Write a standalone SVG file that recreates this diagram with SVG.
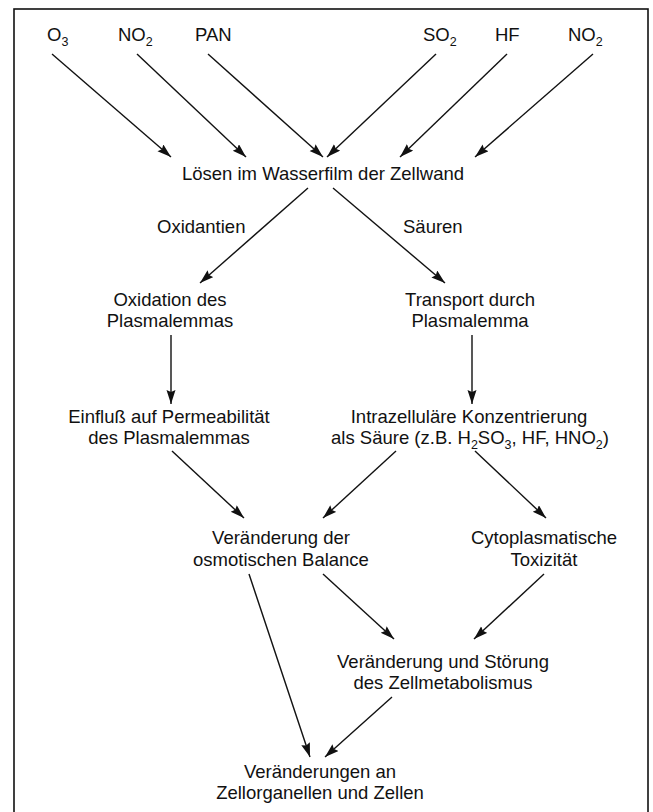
<svg xmlns="http://www.w3.org/2000/svg" width="653" height="812" viewBox="0 0 653 812">
<style>
text{font-family:"Liberation Sans",Arial,sans-serif;font-size:18.5px;fill:#111;}
.c{text-anchor:middle;}
.sub{font-size:12.5px;}
.ln{stroke:#111;stroke-width:1.4;fill:none;marker-end:url(#ah);}
</style>
<defs>
<marker id="ah" markerUnits="userSpaceOnUse" markerWidth="16" markerHeight="10" refX="14" refY="4.5" orient="auto">
<path d="M0,0 L14,4.5 L0,9 L2,4.5 z" fill="#111"/>
</marker>
</defs>
<rect x="0" y="0" width="653" height="812" fill="#fff"/>
<rect x="14" y="9" width="634" height="820" fill="none" stroke="#111" stroke-width="1.6"/>

<g id="n-o3"><text x="47" y="41">O<tspan class="sub" dy="5">3</tspan></text></g>
<g id="n-no2a"><text x="118" y="41">NO<tspan class="sub" dy="5">2</tspan></text></g>
<g id="n-pan"><text x="195" y="41">PAN</text></g>
<g id="n-so2"><text x="423" y="41">SO<tspan class="sub" dy="5">2</tspan></text></g>
<g id="n-hf"><text x="495" y="41">HF</text></g>
<g id="n-no2b"><text x="568" y="41">NO<tspan class="sub" dy="5">2</tspan></text></g>

<g id="n-loesen"><text class="c" x="323" y="180">Lösen im Wasserfilm der Zellwand</text></g>
<g id="l-oxid"><text x="157" y="233">Oxidantien</text></g>
<g id="l-saeuren"><text x="403" y="233">Säuren</text></g>

<g id="n-oxidation"><text class="c" x="170" y="306">Oxidation des</text><text class="c" x="170" y="327">Plasmalemmas</text></g>
<g id="n-transport"><text class="c" x="470" y="306">Transport durch</text><text class="c" x="470" y="327">Plasmalemma</text></g>
<g id="n-einfluss"><text class="c" x="169" y="423">Einfluß auf Permeabilität</text><text class="c" x="169" y="444">des Plasmalemmas</text></g>
<g id="n-intra"><text class="c" x="469" y="423">Intrazelluläre Konzentrierung</text><text class="c" x="470" y="444">als Säure (z.B. H<tspan class="sub" dy="5">2</tspan><tspan dy="-5">SO</tspan><tspan class="sub" dy="5">3</tspan><tspan dy="-5">, HF, HNO</tspan><tspan class="sub" dy="5">2</tspan><tspan dy="-5">)</tspan></text></g>
<g id="n-osmo"><text class="c" x="281" y="544">Veränderung der</text><text class="c" x="281" y="566">osmotischen Balance</text></g>
<g id="n-cyto"><text class="c" x="544" y="544">Cytoplasmatische</text><text class="c" x="544" y="566">Toxizität</text></g>
<g id="n-meta"><text class="c" x="443" y="668">Veränderung und Störung</text><text class="c" x="443" y="689">des Zellmetabolismus</text></g>
<g id="n-zell"><text class="c" x="320" y="778">Veränderungen an</text><text class="c" x="320" y="799">Zellorganellen und Zellen</text></g>

<g id="connectors">
<line class="ln" x1="52" y1="54" x2="171" y2="157"/>
<line class="ln" x1="137" y1="54" x2="246" y2="157"/>
<line class="ln" x1="208" y1="54" x2="323" y2="157"/>
<line class="ln" x1="436" y1="54" x2="327" y2="157"/>
<line class="ln" x1="507" y1="54" x2="400" y2="157"/>
<line class="ln" x1="593" y1="54" x2="475" y2="157"/>
<line class="ln" x1="308" y1="188" x2="200" y2="283"/>
<line class="ln" x1="333" y1="188" x2="445" y2="283"/>
<line class="ln" x1="171" y1="335" x2="171" y2="404"/>
<line class="ln" x1="472" y1="335" x2="472" y2="404"/>
<line class="ln" x1="172" y1="451" x2="244" y2="518"/>
<line class="ln" x1="396" y1="451" x2="323" y2="518"/>
<line class="ln" x1="475" y1="451" x2="546" y2="518"/>
<line class="ln" x1="323" y1="574" x2="394" y2="639"/>
<line class="ln" x1="544" y1="574" x2="474" y2="639"/>
<line class="ln" x1="249" y1="574" x2="310" y2="757"/>
<line class="ln" x1="392" y1="697" x2="325" y2="757"/>
</g>
</svg>
